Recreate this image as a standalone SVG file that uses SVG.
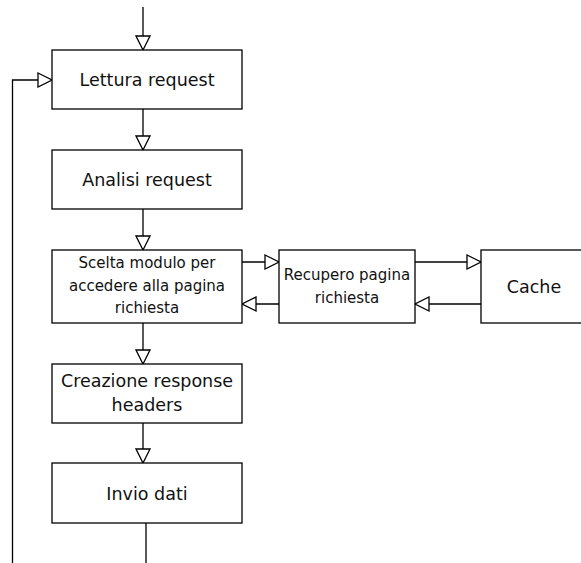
<svg xmlns="http://www.w3.org/2000/svg" width="581" height="563" viewBox="0 0 581 563">
<style>
.box{fill:#fff;stroke:#000;stroke-width:1.3}
.ln{fill:none;stroke:#000;stroke-width:1.3}
.t{font-family:"DejaVu Sans",Verdana,sans-serif;fill:#111;text-anchor:middle}
.big{font-size:17.5px}
.sm{font-size:15px}
</style>
<defs>
<marker id="a" markerUnits="userSpaceOnUse" markerWidth="16" markerHeight="16" viewBox="-1 -1 16 16" refX="14" refY="7" orient="auto">
<path d="M0,0 L14,7 L0,14 Z" fill="#fff" stroke="#000" stroke-width="1.3"/>
</marker>
</defs>
<rect width="581" height="563" fill="#fff"/>
<g id="connectors">
<path class="ln" d="M143,7 V50" marker-end="url(#a)"/>
<path class="ln" d="M143,109 V150" marker-end="url(#a)"/>
<path class="ln" d="M143,209 V250" marker-end="url(#a)"/>
<path class="ln" d="M143,323 V364" marker-end="url(#a)"/>
<path class="ln" d="M143,423 V463" marker-end="url(#a)"/>
<path class="ln" d="M242,262 H279" marker-end="url(#a)"/>
<path class="ln" d="M279,304 H242" marker-end="url(#a)"/>
<path class="ln" d="M415,262 H481" marker-end="url(#a)"/>
<path class="ln" d="M481,304 H415" marker-end="url(#a)"/>
<path class="ln" d="M146,523 V563.6 H12.5 V80 H52" marker-end="url(#a)"/>
</g>
<g id="lettura">
<rect class="box" x="52" y="50" width="190" height="59"/>
<text class="t big" x="147" y="86">Lettura request</text>
</g>
<g id="analisi">
<rect class="box" x="52" y="150" width="190" height="59"/>
<text class="t big" x="147" y="186">Analisi request</text>
</g>
<g id="scelta">
<rect class="box" x="52" y="250" width="190" height="73"/>
<text class="t sm" x="147" y="268">Scelta modulo per</text>
<text class="t sm" x="147" y="290.5">accedere alla pagina</text>
<text class="t sm" x="147" y="313">richiesta</text>
</g>
<g id="recupero">
<rect class="box" x="279" y="250" width="136" height="73"/>
<text class="t sm" x="347" y="280">Recupero pagina</text>
<text class="t sm" x="347" y="302.5">richiesta</text>
</g>
<g id="cache">
<rect class="box" x="481" y="250" width="106" height="73"/>
<text class="t big" x="534" y="293">Cache</text>
</g>
<g id="creazione">
<rect class="box" x="52" y="364" width="190" height="59"/>
<text class="t big" x="147" y="386.5">Creazione response</text>
<text class="t big" x="147" y="410.5">headers</text>
</g>
<g id="invio">
<rect class="box" x="52" y="463" width="190" height="60"/>
<text class="t big" x="147" y="499.5">Invio dati</text>
</g>
</svg>
